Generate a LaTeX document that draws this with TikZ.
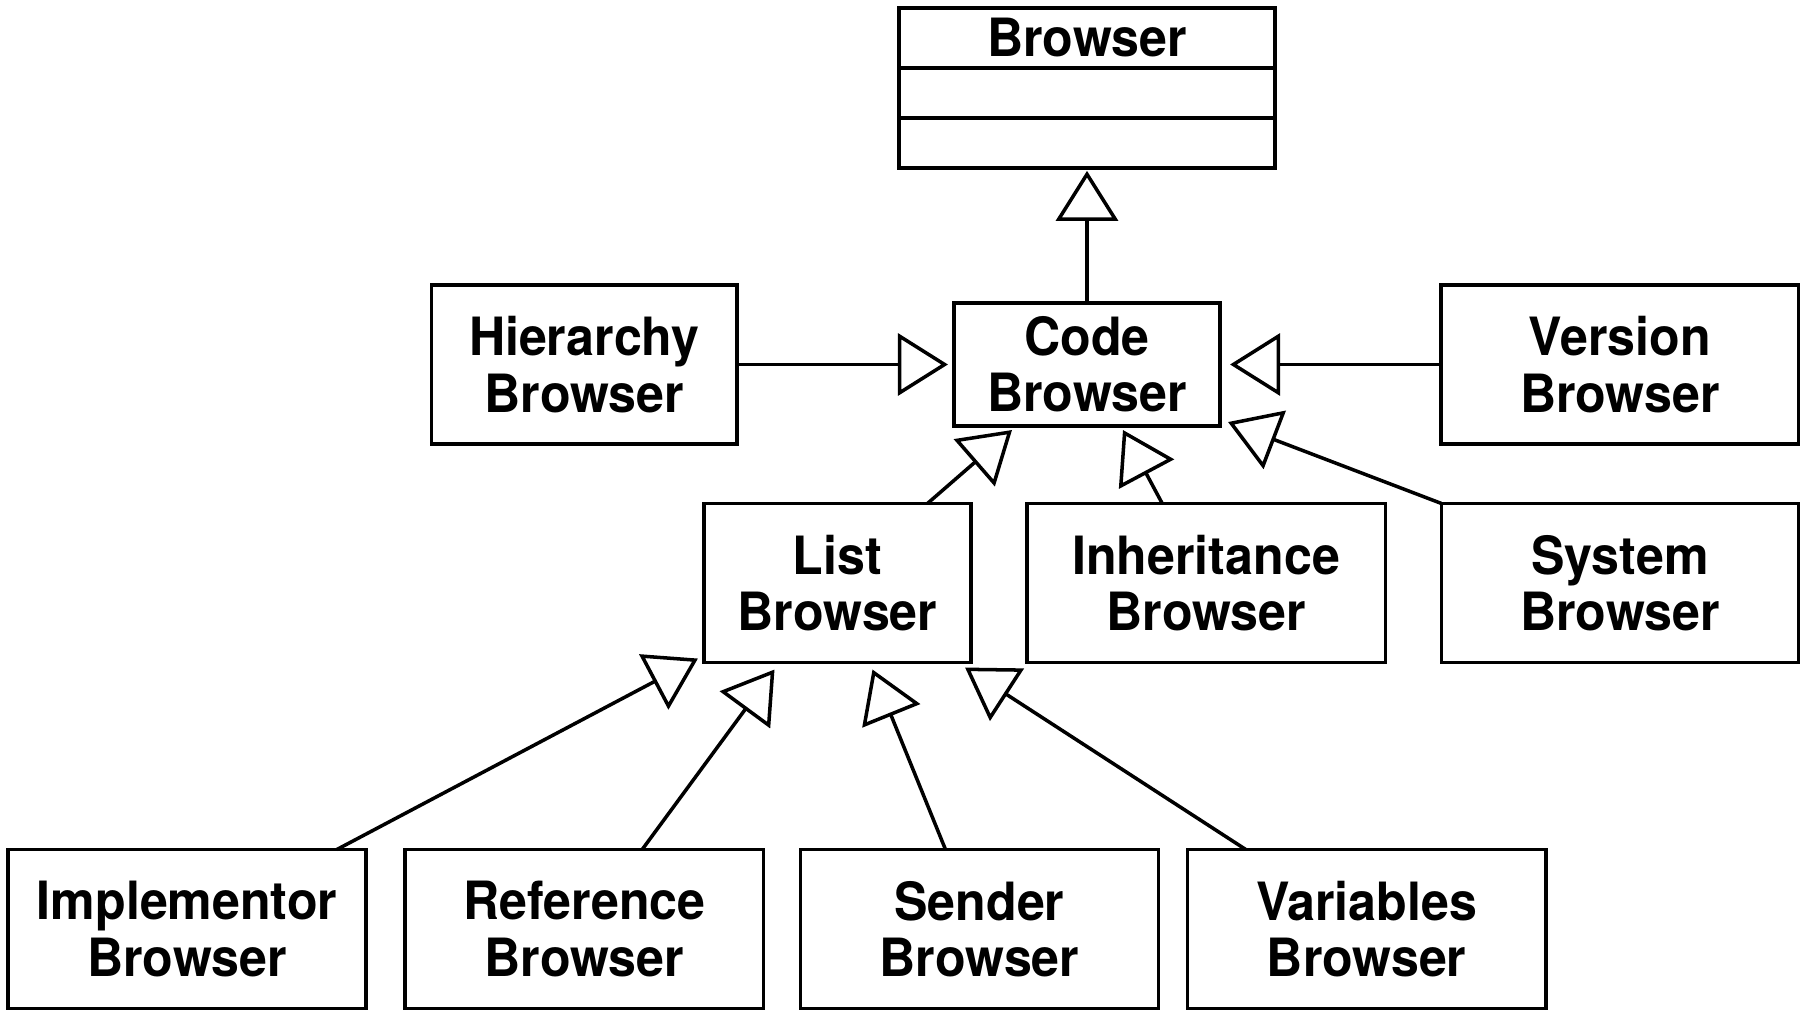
\documentclass[tikz,border=0pt]{standalone}
\usepackage{fontspec}
\setmainfont{TeX Gyre Heros}[FakeStretch=0.95]
\usetikzlibrary{positioning,calc,arrows.meta}

\begin{document}
\begin{tikzpicture}[x=0.01cm, y=0.01cm, line width=1pt,
	cls/.style={draw, outer sep=0pt, inner sep=0pt, align=center, minimum width=3.58cm, minimum height=1.59cm, font=\bfseries\fontsize{15}{16}\selectfont},
	compart/.style={cls, minimum width=3.76cm, minimum height=0.5cm},
	inherits/.style={-{Triangle[open, length=0.5cm, width=0.62cm]}}]
	\useasboundingbox (0,0) rectangle (1808,-1016);

	\node[cls, minimum width=2.66cm, minimum height=1.23cm] (code) at (1087,-364.5) {Code\\Browser};
	\node[compart, above=1.35cm of code] (ops) {};
	\node[compart, above=0pt of ops] (attrs) {};
	\node[compart, minimum height=0.6cm, above=0pt of attrs] (browser) {Browser};
	\node[cls, minimum width=3.05cm, left=2.17cm of code] (hierarchy) {Hierarchy\\Browser};
	\node[cls, minimum width=3.57cm, right=2.21cm of code] (version) {Version\\Browser};

	\node[cls, minimum width=2.67cm] (list) at (837.5,-583) {List\\Browser};
	\node[cls, right=0.56cm of list] (inheritance) {Inheritance\\Browser};
	\node[cls, minimum width=3.57cm, right=0.56cm of inheritance] (system) {System\\Browser};

	\node[cls] (implementor) at (187,-929) {Implementor\\Browser};
	\node[cls, right=0.39cm of implementor] (reference) {Reference\\Browser};
	\node[cls, right=0.37cm of reference] (sender) {Sender\\Browser};
	\node[cls, right=0.29cm of sender] (variables) {Variables\\Browser};

	\draw[inherits, shorten >=0.03cm] (code) -- (ops);
	\draw[inherits, shorten >=0.06cm] (hierarchy) -- (code);
	\draw[inherits, shorten >=0.1cm] (version) -- (code);
	\draw[inherits] ($(list.north)+(90,0)$) -- ($(code.south)+(-75,-4)$);
	\draw[inherits] ($(inheritance.north)+(-44,0)$) -- ($(code.south)+(36,-4)$);
	\draw[inherits] (system.north west) -- ($(code.south east)+(8,4)$);

	\draw[inherits] ($(implementor.north)+(150,0)$) -- ($(list.south west)+(-6,4)$);
	\draw[inherits] ($(reference.north)+(58,0)$) -- ($(list.south)+(-63,-7)$);
	\draw[inherits] ($(sender.north)+(-34,0)$) -- ($(list.south)+(35,-7)$);
	\draw[inherits] ($(variables.north)+(-121,0)$) -- ($(list.south east)+(-6,-5)$);
\end{tikzpicture}
\end{document}
